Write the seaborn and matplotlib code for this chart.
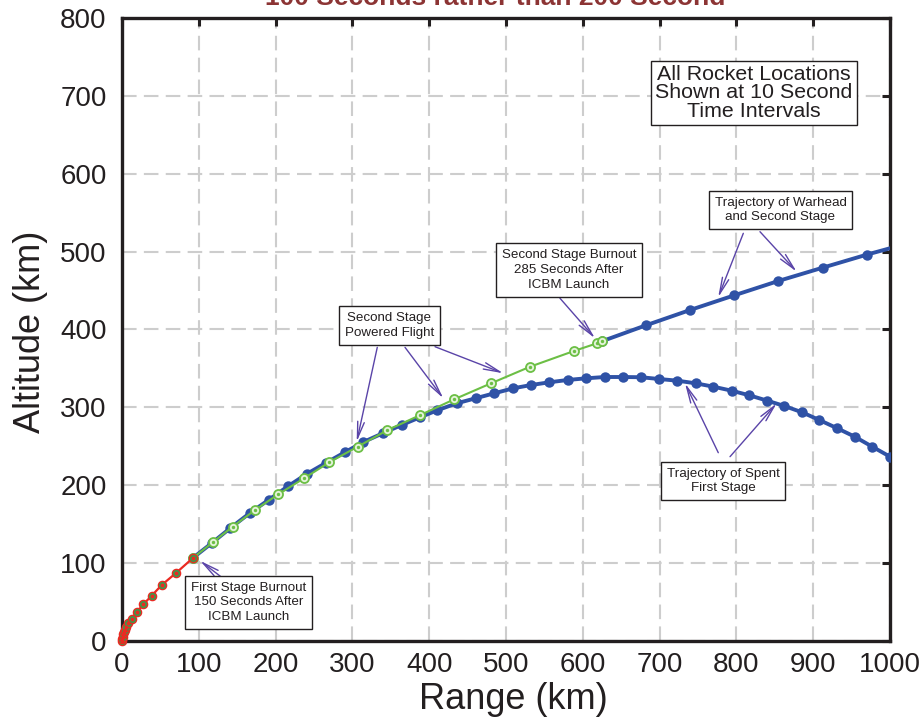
import matplotlib
matplotlib.use("Agg")
import matplotlib.pyplot as plt
from matplotlib import font_manager
import seaborn as sns

# ---- trajectory data (range km, altitude km), one point every 10 s ----
first_stage_x = [0, 0.4, 1.0, 1.8, 2.8, 4.0, 5.5, 8.2, 12.6, 19.1, 27.7, 38.7, 51.7, 70.3, 92.8]
first_stage_y = [0, 2.5, 5.5, 8.5, 11.5, 14.5, 18.0, 22.7, 28.2, 36.8, 47.1, 58.2, 71.9, 87.3, 107.0]

second_stage_x = [92.8, 118.1, 144.1, 173.2, 203.5, 237.0, 269.9, 306.9, 345.7, 387.6,
                  432.7, 480.5, 531.3, 588.5, 618.5, 624.6]
second_stage_y = [107.0, 126.7, 146.8, 168.2, 188.4, 208.9, 229.5, 249.5, 270.9, 289.8,
                  310.4, 330.9, 352.2, 372.4, 382.3, 384.8]

spent_stage_x = [92.8, 116.6, 140.4, 166.7, 191.4, 215.8, 240.5, 265.2, 290.4, 314.2,
                 339.5, 364.2, 387.4, 409.8, 435.8, 460.5, 484.8, 509.5, 532.6, 556.4,
                 580.3, 604.2, 628.3, 652.0, 675.8, 699.6, 723.0, 747.0, 769.9, 793.9,
                 816.8, 840.2, 862.4, 885.4, 907.9, 931.4, 954.0, 976.9, 1000]
spent_stage_y = [107.0, 125.5, 144.5, 164.5, 181.5, 198.5, 214.5, 228.5, 242.5, 255.5,
                 266.7, 277.4, 287.0, 296.0, 305.2, 311.7, 318.1, 324.5, 328.7, 332.2,
                 335.2, 337.3, 339.0, 339.0, 338.7, 336.4, 334.3, 330.9, 326.6, 321.4,
                 315.5, 308.6, 301.8, 293.7, 283.8, 273.1, 262.4, 249.5, 236.7]

warhead_x = [624.6, 682.3, 739.6, 797.3, 854.6, 912.4, 969.7, 1000]
warhead_y = [384.8, 405.4, 425.0, 443.9, 462.3, 479.4, 496.1, 504.3]

x_ticks = [0, 100, 200, 300, 400, 500, 600, 700, 800, 900, 1000]
y_ticks = [0, 100, 200, 300, 400, 500, 600, 700, 800]

BLUE = "#2f52a6"
GREEN = "#6cbf45"
RED = "#ea2a22"
DARK_GREEN = "#3a9a4c"
ARROW = "#5a44a8"
INK = "#231f20"

sns.set_theme(style="white")
plt.rcParams["font.family"] = ["Liberation Sans", "DejaVu Sans"]

available = {f.name for f in font_manager.fontManager.ttflist}
narrow = "Liberation Sans Narrow" if "Liberation Sans Narrow" in available else "Liberation Sans"
note_size = 11 if narrow == "Liberation Sans Narrow" else 9.6

fig = plt.figure(figsize=(9.24, 7.23), dpi=100)
ax = fig.add_axes([122 / 924, 1 - 641 / 723, 768 / 924, 623 / 723])

# spent first stage coasting arc
sns.lineplot(x=spent_stage_x, y=spent_stage_y, sort=False, estimator=None, ax=ax,
             color=BLUE, lw=2.8, marker="o", markersize=7.5, markeredgewidth=0,
             markerfacecolor=BLUE, zorder=3)
# warhead + second stage after burnout
sns.lineplot(x=warhead_x, y=warhead_y, sort=False, estimator=None, ax=ax,
             color=BLUE, lw=2.8, marker="o", markersize=7.5, markeredgewidth=0,
             markerfacecolor=BLUE, markevery=list(range(len(warhead_x) - 1)), zorder=3)
# second stage powered flight
sns.lineplot(x=second_stage_x, y=second_stage_y, sort=False, estimator=None, ax=ax,
             color=GREEN, lw=1.5, marker="o", markersize=6.5, markeredgewidth=1.3,
             markeredgecolor=GREEN, markerfacecolor="#e4f3da", zorder=4)
ax.scatter(second_stage_x, second_stage_y, s=2, color=GREEN, zorder=4.5)
# first stage powered flight
sns.lineplot(x=first_stage_x, y=first_stage_y, sort=False, estimator=None, ax=ax,
             color=RED, lw=1.6, marker="o", markersize=6, markeredgewidth=0.9,
             markeredgecolor=RED, markerfacecolor=DARK_GREEN, zorder=5, clip_on=False)
ax.scatter(first_stage_x, first_stage_y, s=3, color=RED, zorder=6, clip_on=False)

ax.set_xlim(0, 1000)
ax.set_ylim(0, 800)
ax.set_xticks(x_ticks)
ax.set_yticks(y_ticks)
ax.set_xticklabels([str(v) for v in x_ticks])
ax.set_yticklabels([str(v) for v in y_ticks])

ax.grid(True, color="#cdcdcd", lw=1.5, ls=(0, (7, 3.5)), zorder=0)
for s in ax.spines.values():
    s.set_visible(True)
    s.set_color(INK)
    s.set_linewidth(2.4)
ax.tick_params(axis="both", which="both", direction="in", length=6, width=2.2,
               color=INK, top=True, right=True, labelsize=20, labelcolor=INK)
ax.tick_params(axis="x", pad=8)
ax.tick_params(axis="y", pad=11)

ax.set_xlabel("Range (km)", fontsize=26, color=INK)
ax.set_ylabel("Altitude (km)", fontsize=26, color=INK)
ax.xaxis.set_label_coords(0.51, -0.066)
ax.yaxis.set_label_coords(-0.096, 0.496)

# heading (upper part runs off the top of the figure)
fig.text(0.536, 0.9935, "100 Seconds rather than 200 Second", ha="center", va="baseline",
         fontsize=19, fontweight="bold", color="#8c3434")

arrow_style = dict(arrowstyle="->,head_length=1.0,head_width=0.2", color=ARROW, lw=1.0,
                   shrinkA=0, shrinkB=0)
arrows = [
    ((809.0, 523.5), (776.3, 441.3)),
    ((830.7, 525.6), (878.5, 474.2)),
    ((570.3, 440.1), (615.9, 388.7)),
    ((332.4, 377.1), (305.6, 255.9)),
    ((368.5, 377.1), (418.4, 311.6)),
    ((407.6, 377.9), (496.5, 343.8)),
    ((776.4, 241.8), (733.1, 330.9)),
    ((791.7, 236.7), (852.5, 305.2)),
    ((129.8, 81.8), (101.6, 103.1)),
]
for tail, head in arrows:
    ax.annotate("", xy=head, xytext=tail, xycoords="data", textcoords="data",
                arrowprops=arrow_style, zorder=7)

box = dict(boxstyle="square,pad=0.45", fc="white", ec=INK, lw=1.0)
notes = [
    ((857.4, 553.4), "Trajectory of Warhead\nand Second Stage"),
    ((582.0, 476.4), "Second Stage Burnout\n285 Seconds After\nICBM Launch"),
    ((347.9, 405.1), "Second Stage\nPowered Flight"),
    ((782.6, 205.5), "Trajectory of Spent\nFirst Stage"),
    ((165.0, 49.8), "First Stage Burnout\n150 Seconds After\nICBM Launch"),
]
for (x, y), txt in notes:
    ax.text(x, y, txt, ha="center", va="center", multialignment="center",
            fontsize=note_size, family=[narrow, "DejaVu Sans"], color=INK,
            linespacing=1.3, bbox=box, zorder=8)

ax.text(822.9, 703.7, "All Rocket Locations\nShown at 10 Second\nTime Intervals",
        ha="center", va="center", multialignment="center", fontsize=15.4, color=INK,
        linespacing=0.95, bbox=dict(boxstyle="square,pad=0.22", fc="white", ec=INK, lw=1.0),
        zorder=8)

fig.savefig("out.png", dpi=100)
